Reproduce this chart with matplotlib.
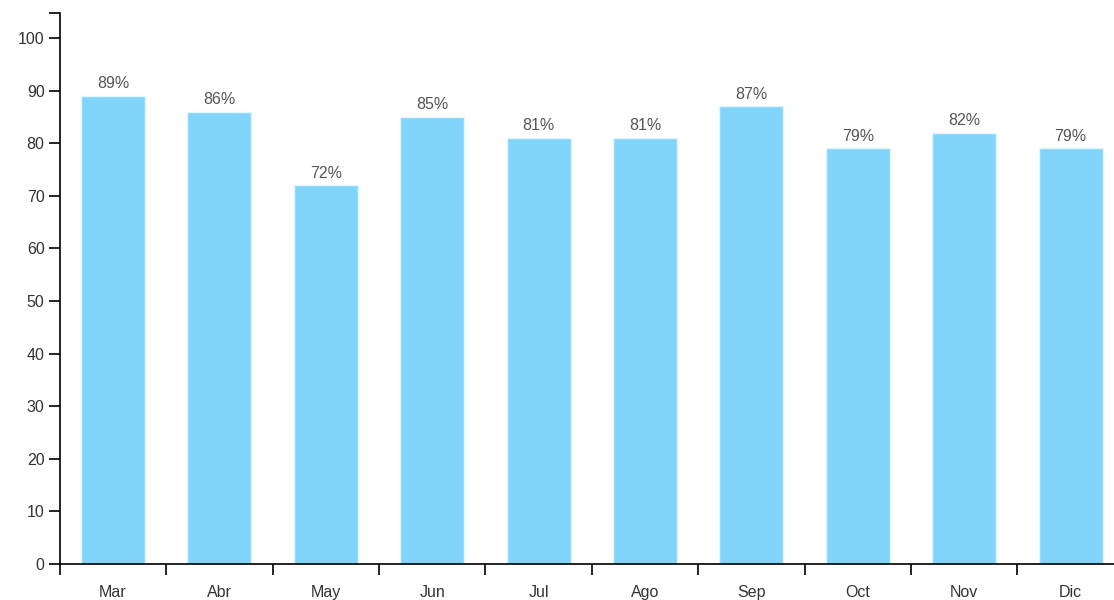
import matplotlib.pyplot as plt
import numpy as np

plt.rcParams['font.family'] = ['Liberation Sans', 'DejaVu Sans']

months = ["Mar", "Abr", "May", "Jun", "Jul", "Ago", "Sep", "Oct", "Nov", "Dic"]
values = [89, 86, 72, 85, 81, 81, 87, 79, 82, 79]

fig = plt.figure(figsize=(11.14, 6), dpi=100)
# axes runs a bit past the right edge, like the original
ax = fig.add_axes([59.8 / 1114, 36 / 600, 1064 / 1114, 551 / 600])

x = np.arange(len(months))
bars = ax.bar(x, values, width=0.6, color="#81d4fa", edgecolor="#e3f5fe", linewidth=1)

for xi, v in zip(x, values):
    ax.text(xi, v + 0.9, f"{v}%", ha="center", va="bottom", fontsize=11.5, color="#555555")

ax.set_xlim(-0.5, len(months) - 0.5)
top = 104.75
ax.set_ylim(0, top)

ax.set_yticks(list(range(0, 101, 10)) + [top])
ax.set_yticklabels([str(t) for t in range(0, 101, 10)] + [""])
ax.set_xticks(x)
ax.set_xticklabels(months)
ax.set_xticks(np.arange(-0.5, len(months), 1), minor=True)
ax.tick_params(axis="x", which="major", length=0, pad=15, labelsize=11.5, labelcolor="#333333")
ax.tick_params(axis="x", which="minor", length=8, width=1.2, color="#000000")
ax.tick_params(axis="y", length=8, width=1.2, labelsize=11.5, labelcolor="#333333", pad=3)

for s in ["top", "right"]:
    ax.spines[s].set_visible(False)
for s in ["left", "bottom"]:
    ax.spines[s].set_linewidth(1.2)

plt.savefig("out.png", dpi=100)
